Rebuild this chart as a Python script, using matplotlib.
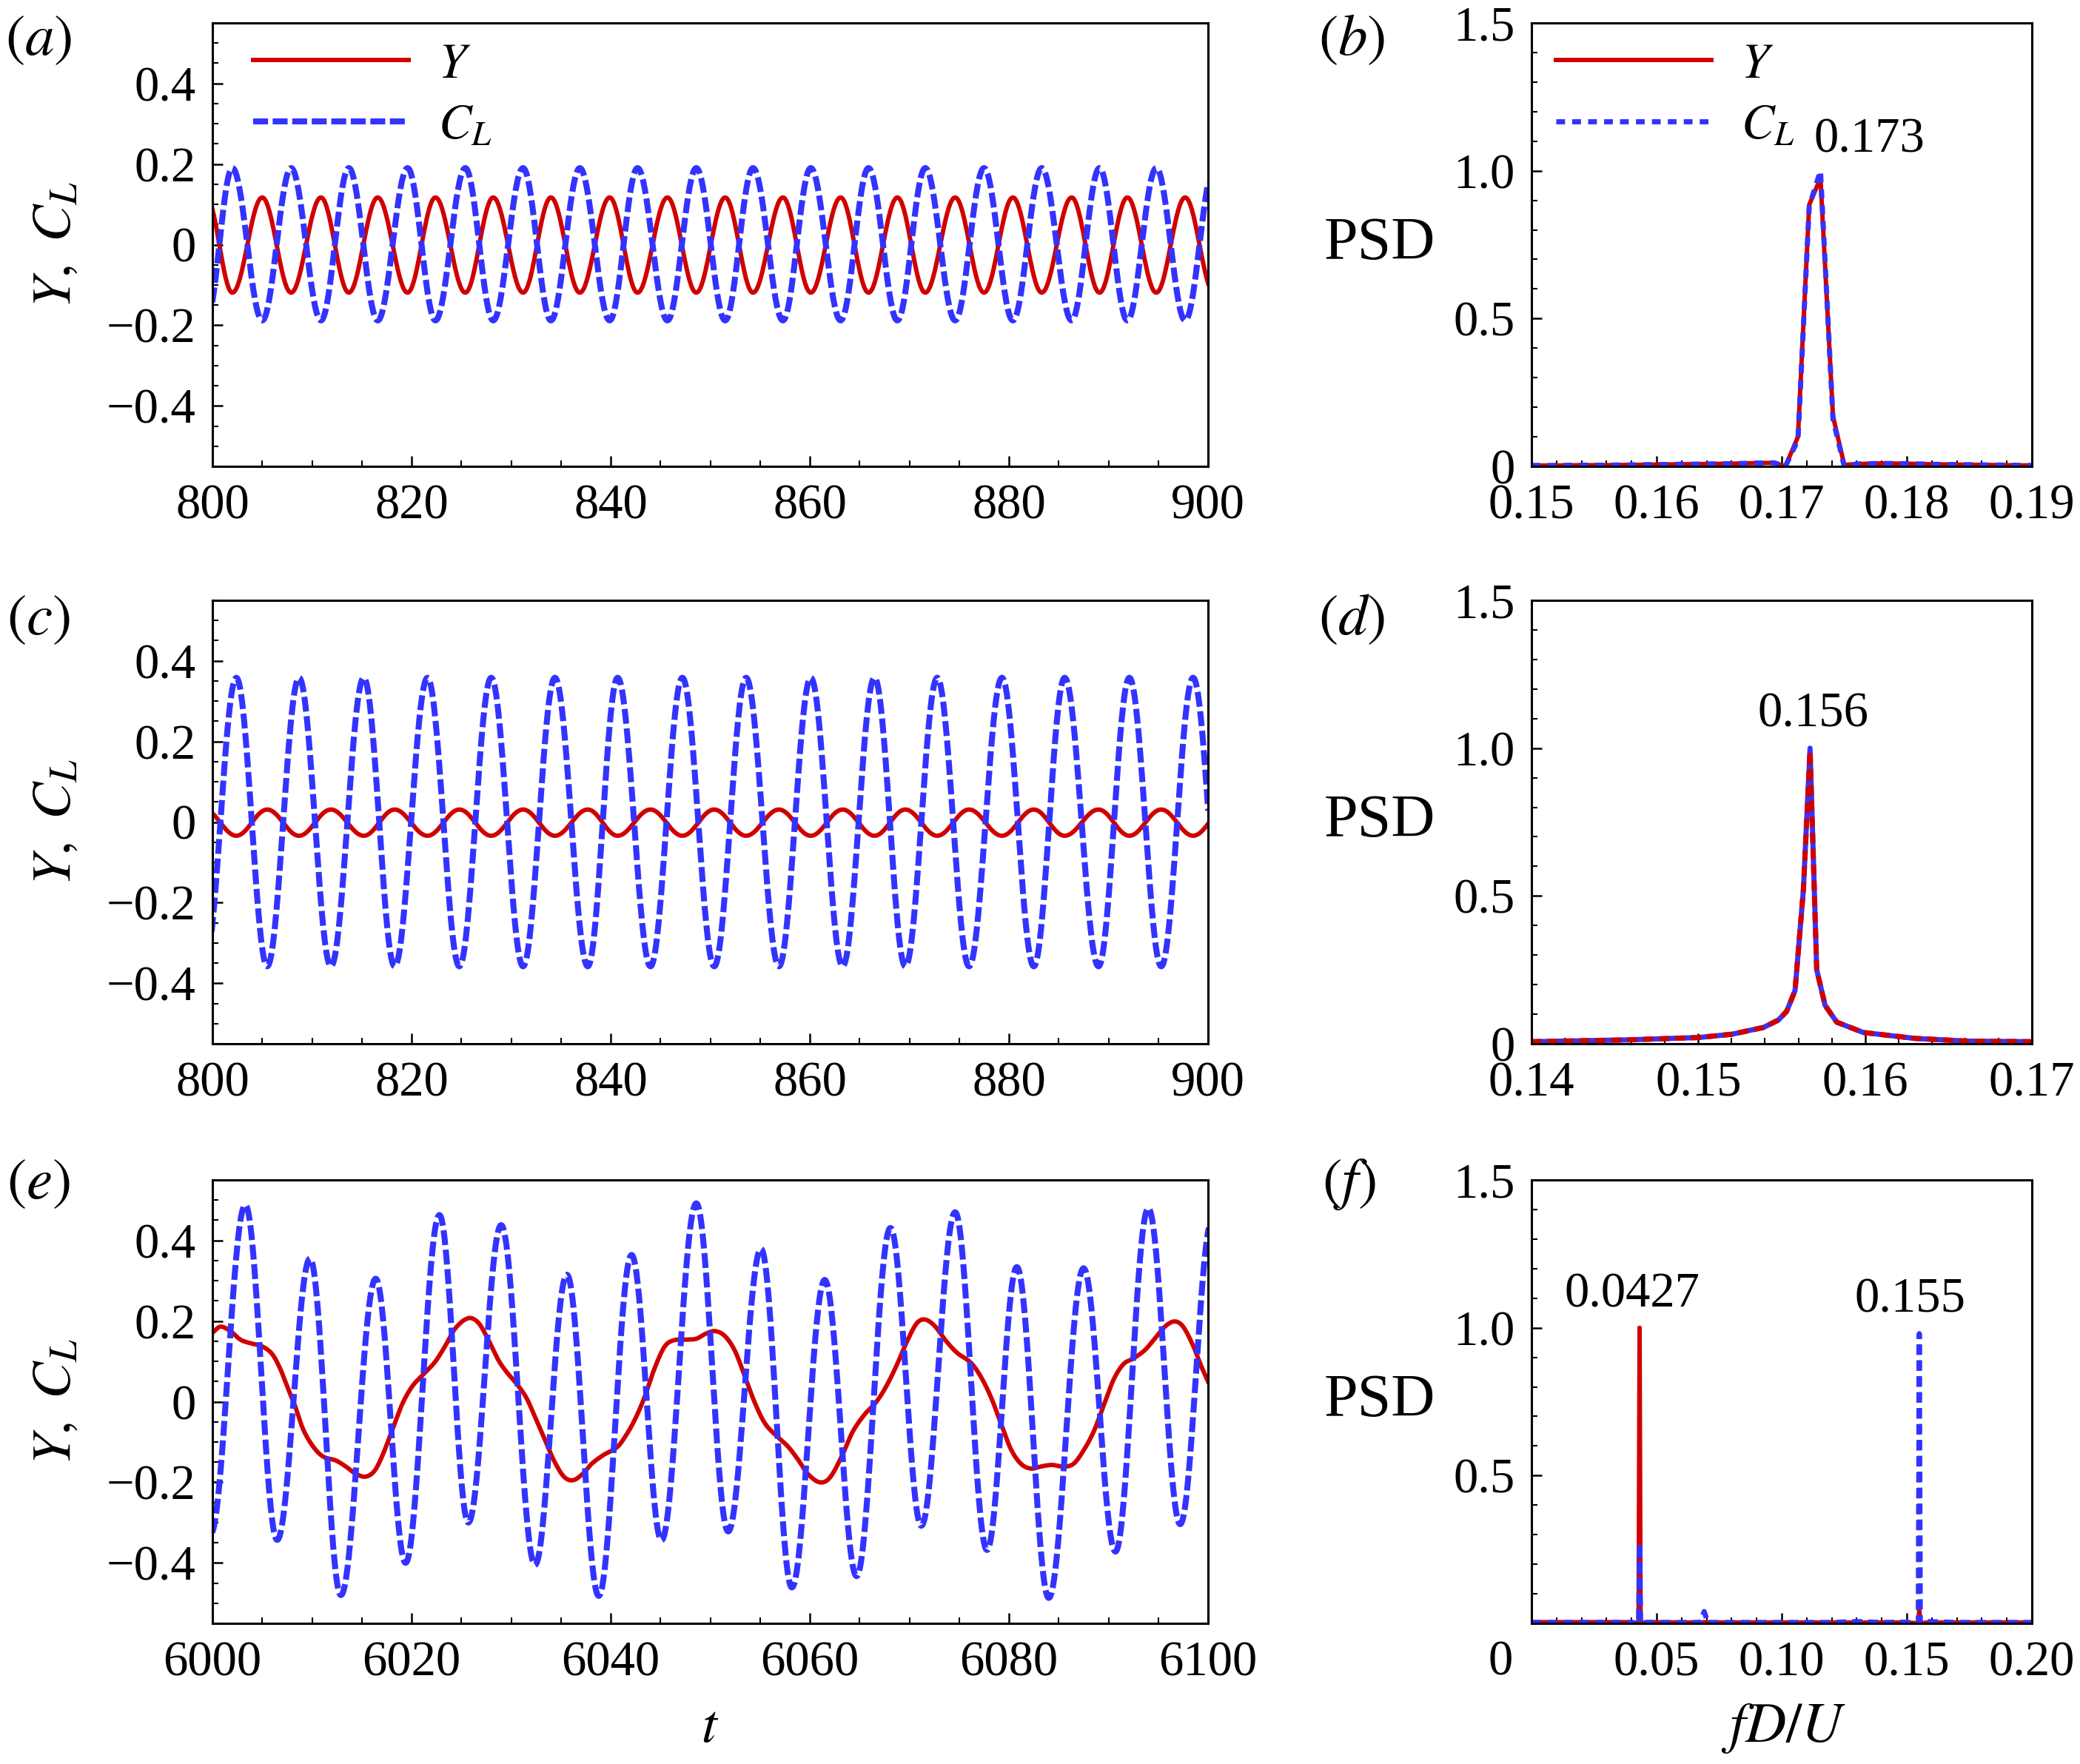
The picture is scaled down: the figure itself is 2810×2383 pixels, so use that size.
import numpy as np
import matplotlib
matplotlib.use('Agg')
import matplotlib.pyplot as plt
from matplotlib.ticker import MultipleLocator, FuncFormatter

# ---------------- data ----------------
# (a) time series, t in [800, 900]
a_cl_peak_t = [802.0, 807.9, 813.7, 819.6, 825.4, 831.2, 836.9, 842.7, 848.6,
               854.3, 860.1, 865.9, 871.6, 877.5, 883.3, 889.1, 894.8, 900.6]
a_cl_trough_t = [799.4, 805.0, 810.9, 816.6, 822.4, 828.2, 834.0, 839.9, 845.7,
                 851.5, 857.3, 863.1, 868.8, 874.6, 880.4, 886.3, 891.9, 897.7]
a_cl_max, a_cl_min = 0.190, -0.188
a_y_max, a_y_min = 0.117, -0.119

# (c) time series, t in [800, 900]
c_cl_peak_t = [802.4, 808.7, 815.2, 821.6, 828.0, 834.4, 840.7, 847.2,
               853.6, 860.1, 866.5, 872.8, 879.3, 885.6, 892.1, 898.5]
c_cl_trough_t = [799.2, 805.5, 811.9, 818.3, 824.8, 831.2, 837.7, 844.0, 850.4,
                 856.9, 863.3, 869.6, 876.0, 882.5, 889.0, 895.3, 901.7]
c_cl_max, c_cl_min = 0.358, -0.358
c_y_max, c_y_min = 0.031, -0.034

# (e) time series, t in [6000, 6100]
e_cl_t = [5999.8, 6003.3, 6006.5, 6009.8, 6012.9, 6016.4, 6019.4, 6022.8, 6025.7,
          6029.0, 6032.4, 6035.6, 6038.8, 6042.1, 6045.1, 6048.6, 6051.8, 6055.1,
          6058.2, 6061.5, 6064.7, 6068.1, 6071.2, 6074.6, 6077.8, 6080.8, 6084.0,
          6087.5, 6090.7, 6094.0, 6097.2, 6100.4]
e_cl_v = [-0.330, 0.488, -0.343, 0.355, -0.480, 0.305, -0.400, 0.463, -0.300,
          0.438, -0.405, 0.315, -0.482, 0.364, -0.344, 0.492, -0.322, 0.379,
          -0.461, 0.302, -0.433, 0.431, -0.308, 0.470, -0.368, 0.334, -0.487,
          0.331, -0.372, 0.480, -0.304, 0.450]
e_y_t = [6000.0, 6000.8, 6001.8, 6002.8, 6003.8, 6005.0, 6006.0, 6006.8, 6007.6,
         6008.3, 6009.1, 6010.1, 6011.1, 6012.4, 6013.4, 6014.4, 6015.4, 6016.3,
         6017.1, 6018.1, 6019.1, 6020.1, 6021.2, 6022.4, 6023.4, 6024.4, 6025.7,
         6026.7, 6027.7, 6028.7, 6029.5, 6030.5, 6031.5, 6032.3, 6033.3, 6034.3,
         6035.3, 6036.2, 6037.2, 6038.1, 6039.3, 6040.6, 6041.4, 6042.4, 6043.4,
         6044.4, 6045.4, 6046.3, 6047.6, 6048.6, 6049.5, 6050.5, 6051.5, 6052.5,
         6053.5, 6054.5, 6055.5, 6056.7, 6057.8, 6058.8, 6059.8, 6061.0, 6062.0,
         6063.2, 6064.3, 6065.5, 6066.7, 6067.7, 6068.7, 6069.7, 6070.7, 6071.5,
         6072.5, 6073.7, 6074.8, 6076.2, 6077.2, 6078.2, 6079.2, 6080.2, 6081.2,
         6082.2, 6083.2, 6084.3, 6085.5, 6086.5, 6087.5, 6088.5, 6089.5, 6090.5,
         6091.5, 6092.5, 6093.7, 6094.8, 6095.8, 6096.7, 6097.5, 6098.5, 6099.3,
         6100.0]
e_y_v = [0.171, 0.186, 0.175, 0.154, 0.145, 0.137, 0.118, 0.082, 0.032,
         -0.011, -0.068, -0.111, -0.136, -0.146, -0.161, -0.179, -0.186, -0.171,
         -0.132, -0.068, -0.004, 0.039, 0.068, 0.100, 0.139, 0.182, 0.207,
         0.196, 0.154, 0.104, 0.075, 0.046, 0.011, -0.032, -0.089, -0.146,
         -0.186, -0.195, -0.179, -0.154, -0.132, -0.114, -0.089, -0.046, 0.011,
         0.082, 0.136, 0.152, 0.154, 0.156, 0.168, 0.175, 0.162, 0.125,
         0.061, -0.004, -0.054, -0.086, -0.111, -0.143, -0.179, -0.200, -0.189,
         -0.136, -0.075, -0.032, 0.000, 0.039, 0.089, 0.146, 0.193, 0.204,
         0.189, 0.150, 0.121, 0.096, 0.061, 0.011, -0.054, -0.118, -0.154,
         -0.166, -0.161, -0.157, -0.161, -0.154, -0.121, -0.075, -0.011, 0.054,
         0.093, 0.107, 0.129, 0.161, 0.189, 0.199, 0.186, 0.139, 0.089,
         0.050]

# (b) PSD
b_f = [0.150, 0.152, 0.154, 0.156, 0.158, 0.160, 0.162, 0.164, 0.166, 0.168,
       0.1694, 0.1703, 0.1713, 0.1722, 0.1731, 0.1741, 0.1750, 0.176, 0.178,
       0.180, 0.182, 0.184, 0.186, 0.188, 0.190]
b_y = [0.003, 0.003, 0.004, 0.004, 0.005, 0.006, 0.007, 0.008, 0.009, 0.011,
       0.012, 0.000, 0.100, 0.885, 0.975, 0.170, 0.005, 0.008, 0.010,
       0.009, 0.007, 0.006, 0.005, 0.004, 0.003]
b_cl = [0.003, 0.003, 0.004, 0.004, 0.005, 0.006, 0.007, 0.008, 0.009, 0.011,
        0.012, 0.000, 0.090, 0.880, 1.000, 0.160, 0.000, 0.008, 0.010,
        0.009, 0.007, 0.006, 0.005, 0.004, 0.003]

# (d) PSD
d_f = [0.140, 0.1457, 0.150, 0.152, 0.1539, 0.1548, 0.1553, 0.1558, 0.1563,
       0.1567, 0.1571, 0.1576, 0.1583, 0.1599, 0.163, 0.1661, 0.170]
d_cl = [0.007, 0.013, 0.021, 0.032, 0.055, 0.080, 0.110, 0.180, 0.520,
        1.000, 0.250, 0.130, 0.073, 0.038, 0.018, 0.009, 0.007]
d_y = [0.007, 0.013, 0.021, 0.032, 0.055, 0.080, 0.110, 0.180, 0.520,
       0.990, 0.250, 0.130, 0.073, 0.038, 0.018, 0.009, 0.007]

# (f) PSD
f_f = [0.0, 0.010, 0.020, 0.030, 0.040, 0.0428, 0.0432, 0.0436, 0.046, 0.060,
       0.0675, 0.0690, 0.0705, 0.080, 0.100, 0.120, 0.130, 0.140, 0.150,
       0.1546, 0.1550, 0.1554, 0.158, 0.170, 0.180, 0.200]
f_y = [0.004, 0.004, 0.004, 0.004, 0.004, 0.000, 1.000, 0.000, 0.004, 0.003,
       0.003, 0.004, 0.003, 0.003, 0.003, 0.003, 0.003, 0.003, 0.003,
       0.000, 0.050, 0.000, 0.003, 0.003, 0.003, 0.003]
f_cl = [0.003, 0.003, 0.003, 0.003, 0.003, 0.000, 0.270, 0.000, 0.003, 0.003,
        0.003, 0.040, 0.003, 0.003, 0.003, 0.003, 0.006, 0.003, 0.004,
        0.000, 0.980, 0.000, 0.006, 0.003, 0.003, 0.003]

peak_labels = {'b': ('0.173', 0.1770, 1.104),
               'd': ('0.156', 0.1569, 1.115),
               'f1': ('0.0427', 0.0402, 1.113),
               'f2': ('0.155', 0.1512, 1.094)}

# ---------------- rendering helpers ----------------
def through_extrema(t_ext, v_ext, n=40):
    """smooth half-cosine stroke between consecutive extrema"""
    ts, vs = [], []
    for i in range(len(t_ext) - 1):
        s = np.linspace(0, 1, n, endpoint=False)
        ts.append(t_ext[i] + (t_ext[i + 1] - t_ext[i]) * s)
        vs.append(v_ext[i] + (v_ext[i + 1] - v_ext[i]) * (1 - np.cos(np.pi * s)) / 2)
    ts.append([t_ext[-1]]); vs.append([v_ext[-1]])
    return np.concatenate(ts), np.concatenate(vs)


def hermite(t, v, n=12):
    t = np.asarray(t, float); v = np.asarray(v, float)
    m = np.zeros_like(v)
    m[1:-1] = (v[2:] - v[:-2]) / (t[2:] - t[:-2])
    m[0] = (v[1] - v[0]) / (t[1] - t[0]); m[-1] = (v[-1] - v[-2]) / (t[-1] - t[-2])
    ts, vs = [], []
    for i in range(len(t) - 1):
        h = t[i + 1] - t[i]
        s = np.linspace(0, 1, n, endpoint=False)
        h00 = 2 * s**3 - 3 * s**2 + 1; h10 = s**3 - 2 * s**2 + s
        h01 = -2 * s**3 + 3 * s**2; h11 = s**3 - s**2
        ts.append(t[i] + h * s)
        vs.append(h00 * v[i] + h10 * h * m[i] + h01 * v[i + 1] + h11 * h * m[i + 1])
    ts.append([t[-1]]); vs.append([v[-1]])
    return np.concatenate(ts), np.concatenate(vs)


def alternate(peaks, troughs, vmax, vmin):
    ev = sorted([(p, vmax) for p in peaks] + [(q, vmin) for q in troughs])
    return [e[0] for e in ev], [e[1] for e in ev]

# ---------------- style ----------------
plt.rcParams.update({
    'font.family': ['Liberation Serif', 'DejaVu Serif'],
    'mathtext.fontset': 'stix',
    'font.size': 47,
    'axes.linewidth': 2.2,
    'lines.scale_dashes': False,
})
RED = '#D00000'
BLUE = '#3333FF'
W, H = 2810, 2383
fig = plt.figure(figsize=(W / 100, H / 100), dpi=100)

LX1, WX1 = 287 / W, (1632 - 287) / W
LX2, WX2 = 2069 / W, (2745 - 2069) / W
AH = 599 / H
bottoms = [1 - 630 / H, 1 - 1410 / H, 1 - 2193 / H]
TICK_FS = 48


def style_axis(ax):
    ax.tick_params(which='both', direction='in', top=False, right=False,
                   labelsize=TICK_FS)
    ax.tick_params(which='major', length=10, width=1.8)
    ax.tick_params(which='minor', length=5.5, width=1.5)
    ax.tick_params(axis='x', which='both', pad=17)
    ax.tick_params(axis='y', which='both', pad=16)


def fmt_ts(v, pos):
    if abs(v) < 1e-9:
        return '0'
    return ('%.1f' % v).replace('-', '\u2212')


def fmt_psd(v, pos):
    if abs(v) < 1e-9:
        return '0'
    return '%.1f' % v


ts_axes = []
for k, (t0, t1) in enumerate([(800, 900), (800, 900), (6000, 6100)]):
    ax = fig.add_axes([LX1, bottoms[k], WX1, AH])
    ax.set_xlim(t0, t1)
    ax.set_ylim(-0.55, 0.55)
    ax.xaxis.set_major_locator(MultipleLocator(20))
    ax.xaxis.set_minor_locator(MultipleLocator(5))
    ax.yaxis.set_major_locator(MultipleLocator(0.2))
    ax.yaxis.set_minor_locator(MultipleLocator(0.05))
    ax.yaxis.set_major_formatter(FuncFormatter(fmt_ts))
    style_axis(ax)
    ts_axes.append(ax)

TS_DASH = (0, (14.5, 4.5))
PSD_DASH = (0, (10, 5.5))
LW_R, LW_B = 4.3, 5.8
LW_PSD_R, LW_PSD_B = 4.3, 5.0
LEG_KW = dict(loc='upper left', frameon=False, handlelength=3.15,
              handletextpad=0.6, labelspacing=0.32, borderaxespad=0.0,
              fontsize=48)

# (a)
ax = ts_axes[0]
tc, vc = through_extrema(*alternate(a_cl_peak_t, a_cl_trough_t, a_cl_max, a_cl_min))
ty, vy = through_extrema(*alternate(a_cl_trough_t, a_cl_peak_t, a_y_max, a_y_min))
ax.plot(ty, vy, color=RED, lw=LW_R, label='$Y$')
ax.plot(tc, vc, color=BLUE, lw=LW_B, linestyle=TS_DASH, label='$C_L$')
ax.legend(bbox_to_anchor=(0.021, 1.0), **LEG_KW)

# (c)
ax = ts_axes[1]
tc, vc = through_extrema(*alternate(c_cl_peak_t, c_cl_trough_t, c_cl_max, c_cl_min))
ty, vy = through_extrema(*alternate(c_cl_trough_t, c_cl_peak_t, c_y_max, c_y_min))
ax.plot(ty, vy, color=RED, lw=LW_R)
ax.plot(tc, vc, color=BLUE, lw=LW_B, linestyle=TS_DASH)

# (e)
ax = ts_axes[2]
ty, vy = hermite(e_y_t, e_y_v)
tc, vc = through_extrema(e_cl_t, e_cl_v)
ax.plot(ty, vy, color=RED, lw=LW_R)
ax.plot(tc, vc, color=BLUE, lw=LW_B, linestyle=TS_DASH)

# PSD axes
psd_axes = []
for k, (f0, f1, maj, mnr) in enumerate([(0.15, 0.19, 0.01, 0.002),
                                        (0.14, 0.17, 0.01, 0.002),
                                        (0.0, 0.2, 0.05, 0.01)]):
    ax = fig.add_axes([LX2, bottoms[k], WX2, AH])
    ax.set_xlim(f0, f1)
    ax.set_ylim(0, 1.5)
    ax.xaxis.set_major_locator(MultipleLocator(maj))
    ax.xaxis.set_minor_locator(MultipleLocator(mnr))
    ax.yaxis.set_major_locator(MultipleLocator(0.5))
    ax.yaxis.set_minor_locator(MultipleLocator(0.1))
    ax.yaxis.set_major_formatter(FuncFormatter(fmt_psd))
    style_axis(ax)
    psd_axes.append(ax)

ax = psd_axes[0]
ax.xaxis.set_major_formatter(FuncFormatter(lambda v, p: '%.2f' % v))
ax.plot(b_f, b_y, color=RED, lw=LW_PSD_R, label='$Y$')
ax.plot(b_f, b_cl, color=BLUE, lw=LW_PSD_B, linestyle=(0, (8.5, 7)), label='$C_L$')
ax.legend(bbox_to_anchor=(0.01, 1.0), **LEG_KW)
s, x, y = peak_labels['b']
ax.text(x, y, s, ha='center', va='center', fontsize=48)

ax = psd_axes[1]
ax.xaxis.set_major_formatter(FuncFormatter(lambda v, p: '%.2f' % v))
ax.plot(d_f, d_cl, color=BLUE, lw=LW_PSD_B)
ax.plot(d_f, d_y, color=RED, lw=LW_PSD_B, linestyle=PSD_DASH)
s, x, y = peak_labels['d']
ax.text(x, y, s, ha='center', va='center', fontsize=48)

ax = psd_axes[2]
ax.xaxis.set_major_formatter(FuncFormatter(lambda v, p: '' if abs(v) < 1e-9 else '%.2f' % v))
ax.yaxis.set_major_formatter(FuncFormatter(lambda v, p: '' if abs(v) < 1e-9 else '%.1f' % v))
ax.plot(f_f, f_y, color=RED, lw=LW_PSD_R)
ax.plot(f_f, f_cl, color=BLUE, lw=LW_PSD_B, linestyle=PSD_DASH)
for key in ('f1', 'f2'):
    s, x, y = peak_labels[key]
    ax.text(x, y, s, ha='center', va='center', fontsize=48)
ax.text(-0.0075, -0.133, '0', ha='right', va='center', fontsize=TICK_FS, clip_on=False)

# labels
for k in range(3):
    yc = bottoms[k] + AH / 2
    fig.text(77 / W, yc, r'$Y,\ C_L$', rotation=90, ha='center', va='center',
             fontsize=54)
    fig.text(1864 / W, yc, 'PSD', ha='center', va='center', fontsize=59)

for lab, xp, yp in [('a', 52, 55), ('b', 1826, 55), ('c', 52, 838),
                    ('d', 1826, 838), ('e', 52, 1600), ('f', 1822, 1600)]:
    fig.text(xp / W, 1 - yp / H, r'$(%s)$' % lab, ha='center', va='center',
             fontsize=57)

fig.text(959 / W, 1 - 2335 / H, r'$t$', ha='center', va='center', fontsize=54)
fig.text(2410 / W, 1 - 2335 / H, r'$fD/U$', ha='center', va='center', fontsize=55)

fig.savefig('out.png', dpi=100)
